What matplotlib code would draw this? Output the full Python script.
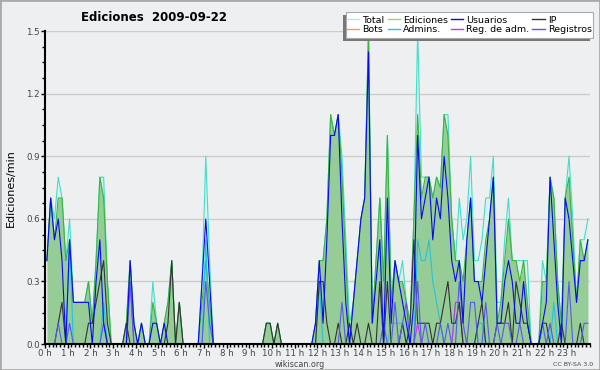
#!/usr/bin/env python3
"""
Edits per minute for one day (2009-09-22), 10 minute bins, wikiscan style.
"""

import numpy as np
import matplotlib
matplotlib.use("Agg")
import matplotlib.pyplot as plt
from matplotlib.lines import Line2D
from matplotlib.patches import Rectangle
from matplotlib.ticker import MultipleLocator

# one row per hour, 6 bins of 10 minutes each
total = [
    0.4, 0.7, 0.6, 0.8, 0.7, 0.4,
    0.6, 0.2, 0.2, 0.2, 0.2, 0.3,
    0.1, 0.4, 0.8, 0.8, 0.3, 0.0,
    0.0, 0.0, 0.0, 0.1, 0.4, 0.1,
    0.0, 0.1, 0.0, 0.0, 0.3, 0.1,
    0.0, 0.1, 0.2, 0.4, 0.0, 0.2,
    0.0, 0.0, 0.0, 0.0, 0.0, 0.3,
    0.9, 0.4, 0.0, 0.0, 0.0, 0.0,
    0.0, 0.0, 0.0, 0.0, 0.0, 0.0,
    0.0, 0.0, 0.0, 0.0, 0.1, 0.1,
    0.0, 0.1, 0.0, 0.0, 0.0, 0.0,
    0.0, 0.0, 0.0, 0.0, 0.0, 0.1,
    0.4, 0.4, 0.6, 1.1, 1.0, 1.1,
    0.9, 0.5, 0.1, 0.2, 0.4, 0.6,
    0.7, 1.5, 0.1, 0.4, 0.7, 0.3,
    1.0, 0.2, 0.4, 0.3, 0.4, 0.2,
    0.1, 0.6, 1.5, 0.8, 0.8, 0.8,
    0.7, 0.8, 0.75, 1.1, 1.1, 0.6,
    0.4, 0.7, 0.5, 0.6, 0.9, 0.4,
    0.4, 0.5, 0.7, 0.7, 0.9, 0.2,
    0.2, 0.5, 0.7, 0.4, 0.4, 0.4,
    0.4, 0.4, 0.0, 0.0, 0.0, 0.4,
    0.3, 0.8, 0.7, 0.3, 0.0, 0.7,
    0.9, 0.6, 0.2, 0.5, 0.5, 0.6,
]

ediciones = [
    0.4, 0.7, 0.5, 0.7, 0.7, 0.4,
    0.5, 0.2, 0.2, 0.2, 0.2, 0.3,
    0.1, 0.4, 0.8, 0.7, 0.3, 0.0,
    0.0, 0.0, 0.0, 0.1, 0.4, 0.1,
    0.0, 0.1, 0.0, 0.0, 0.2, 0.1,
    0.0, 0.1, 0.2, 0.4, 0.0, 0.2,
    0.0, 0.0, 0.0, 0.0, 0.0, 0.2,
    0.4, 0.2, 0.0, 0.0, 0.0, 0.0,
    0.0, 0.0, 0.0, 0.0, 0.0, 0.0,
    0.0, 0.0, 0.0, 0.0, 0.1, 0.1,
    0.0, 0.1, 0.0, 0.0, 0.0, 0.0,
    0.0, 0.0, 0.0, 0.0, 0.0, 0.1,
    0.4, 0.4, 0.6, 1.1, 1.0, 1.1,
    0.8, 0.4, 0.0, 0.2, 0.4, 0.6,
    0.7, 1.5, 0.1, 0.4, 0.7, 0.3,
    1.0, 0.2, 0.4, 0.3, 0.3, 0.2,
    0.1, 0.6, 1.1, 0.7, 0.8, 0.8,
    0.7, 0.8, 0.75, 1.1, 1.0, 0.6,
    0.4, 0.4, 0.3, 0.5, 0.7, 0.3,
    0.3, 0.3, 0.5, 0.6, 0.8, 0.1,
    0.2, 0.4, 0.6, 0.4, 0.4, 0.3,
    0.4, 0.2, 0.0, 0.0, 0.0, 0.3,
    0.3, 0.8, 0.7, 0.3, 0.1, 0.7,
    0.8, 0.5, 0.2, 0.5, 0.4, 0.5,
]

usuarios = [
    0.4, 0.7, 0.5, 0.6, 0.4, 0.0,
    0.5, 0.2, 0.2, 0.2, 0.2, 0.2,
    0.0, 0.3, 0.5, 0.1, 0.0, 0.0,
    0.0, 0.0, 0.0, 0.0, 0.4, 0.1,
    0.0, 0.1, 0.0, 0.0, 0.1, 0.1,
    0.0, 0.1, 0.0, 0.0, 0.0, 0.0,
    0.0, 0.0, 0.0, 0.0, 0.0, 0.3,
    0.6, 0.3, 0.0, 0.0, 0.0, 0.0,
    0.0, 0.0, 0.0, 0.0, 0.0, 0.0,
    0.0, 0.0, 0.0, 0.0, 0.0, 0.0,
    0.0, 0.0, 0.0, 0.0, 0.0, 0.0,
    0.0, 0.0, 0.0, 0.0, 0.0, 0.1,
    0.4, 0.1, 0.5, 1.0, 1.0, 1.1,
    0.6, 0.2, 0.0, 0.2, 0.4, 0.6,
    0.7, 1.4, 0.1, 0.3, 0.5, 0.0,
    0.7, 0.1, 0.4, 0.3, 0.2, 0.1,
    0.0, 0.2, 1.0, 0.6, 0.7, 0.8,
    0.5, 0.7, 0.6, 0.9, 0.7, 0.4,
    0.3, 0.4, 0.1, 0.5, 0.7, 0.3,
    0.3, 0.2, 0.4, 0.6, 0.8, 0.1,
    0.1, 0.3, 0.4, 0.3, 0.1, 0.1,
    0.3, 0.1, 0.0, 0.0, 0.0, 0.1,
    0.2, 0.8, 0.5, 0.2, 0.0, 0.7,
    0.6, 0.4, 0.2, 0.4, 0.4, 0.5,
]

ip = [
    0.0, 0.0, 0.0, 0.1, 0.2, 0.0,
    0.0, 0.0, 0.0, 0.0, 0.0, 0.1,
    0.1, 0.2, 0.3, 0.4, 0.1, 0.0,
    0.0, 0.0, 0.0, 0.1, 0.0, 0.0,
    0.0, 0.0, 0.0, 0.0, 0.0, 0.0,
    0.0, 0.0, 0.1, 0.4, 0.0, 0.2,
    0.0, 0.0, 0.0, 0.0, 0.0, 0.0,
    0.0, 0.0, 0.0, 0.0, 0.0, 0.0,
    0.0, 0.0, 0.0, 0.0, 0.0, 0.0,
    0.0, 0.0, 0.0, 0.0, 0.1, 0.1,
    0.0, 0.1, 0.0, 0.0, 0.0, 0.0,
    0.0, 0.0, 0.0, 0.0, 0.0, 0.0,
    0.3, 0.3, 0.1, 0.0, 0.0, 0.1,
    0.0, 0.0, 0.1, 0.0, 0.1, 0.0,
    0.0, 0.1, 0.0, 0.0, 0.3, 0.0,
    0.3, 0.0, 0.0, 0.0, 0.1, 0.0,
    0.1, 0.5, 0.1, 0.1, 0.1, 0.1,
    0.0, 0.1, 0.1, 0.2, 0.3, 0.1,
    0.1, 0.2, 0.0, 0.0, 0.0, 0.0,
    0.1, 0.2, 0.0, 0.0, 0.0, 0.1,
    0.1, 0.1, 0.2, 0.0, 0.3, 0.2,
    0.1, 0.1, 0.0, 0.0, 0.0, 0.1,
    0.1, 0.0, 0.0, 0.0, 0.1, 0.0,
    0.0, 0.0, 0.0, 0.1, 0.0, 0.0,
]

registros = [
    0.0, 0.0, 0.0, 0.1, 0.0, 0.0,
    0.1, 0.0, 0.0, 0.0, 0.0, 0.0,
    0.0, 0.0, 0.0, 0.1, 0.0, 0.0,
    0.0, 0.0, 0.0, 0.0, 0.3, 0.0,
    0.0, 0.0, 0.0, 0.0, 0.0, 0.0,
    0.0, 0.0, 0.0, 0.0, 0.0, 0.0,
    0.0, 0.0, 0.0, 0.0, 0.0, 0.0,
    0.3, 0.1, 0.0, 0.0, 0.0, 0.0,
    0.0, 0.0, 0.0, 0.0, 0.0, 0.0,
    0.0, 0.0, 0.0, 0.0, 0.0, 0.0,
    0.0, 0.0, 0.0, 0.0, 0.0, 0.0,
    0.0, 0.0, 0.0, 0.0, 0.0, 0.0,
    0.0, 0.0, 0.0, 0.0, 0.0, 0.0,
    0.2, 0.0, 0.0, 0.0, 0.0, 0.0,
    0.0, 0.0, 0.0, 0.0, 0.0, 0.1,
    0.0, 0.0, 0.2, 0.0, 0.1, 0.2,
    0.0, 0.0, 0.3, 0.0, 0.1, 0.0,
    0.0, 0.0, 0.1, 0.0, 0.1, 0.0,
    0.0, 0.3, 0.1, 0.0, 0.2, 0.2,
    0.0, 0.0, 0.2, 0.0, 0.0, 0.1,
    0.0, 0.1, 0.1, 0.0, 0.0, 0.1,
    0.0, 0.0, 0.0, 0.0, 0.0, 0.1,
    0.0, 0.1, 0.0, 0.0, 0.0, 0.0,
    0.3, 0.0, 0.0, 0.0, 0.1, 0.1,
]

admins = [
    0.0, 0.0, 0.0, 0.0, 0.0, 0.0,
    0.5, 0.0, 0.0, 0.0, 0.0, 0.0,
    0.0, 0.0, 0.0, 0.2, 0.0, 0.0,
    0.0, 0.0, 0.0, 0.0, 0.0, 0.0,
    0.0, 0.0, 0.0, 0.0, 0.0, 0.0,
    0.0, 0.0, 0.0, 0.0, 0.0, 0.0,
    0.0, 0.0, 0.0, 0.0, 0.0, 0.0,
    0.5, 0.0, 0.0, 0.0, 0.0, 0.0,
    0.0, 0.0, 0.0, 0.0, 0.0, 0.0,
    0.0, 0.0, 0.0, 0.0, 0.0, 0.0,
    0.0, 0.0, 0.0, 0.0, 0.0, 0.0,
    0.0, 0.0, 0.0, 0.0, 0.0, 0.0,
    0.3, 0.0, 0.0, 0.0, 0.0, 0.0,
    0.0, 0.0, 0.0, 0.0, 0.0, 0.0,
    0.0, 0.0, 0.0, 0.0, 0.0, 0.0,
    0.0, 0.1, 0.1, 0.1, 0.1, 0.0,
    0.0, 0.0, 0.5, 0.4, 0.4, 0.5,
    0.3, 0.2, 0.1, 0.0, 0.0, 0.0,
    0.2, 0.2, 0.0, 0.0, 0.0, 0.0,
    0.1, 0.1, 0.0, 0.0, 0.0, 0.0,
    0.0, 0.0, 0.0, 0.0, 0.0, 0.0,
    0.0, 0.0, 0.0, 0.0, 0.0, 0.0,
    0.0, 0.0, 0.2, 0.0, 0.0, 0.0,
    0.0, 0.0, 0.0, 0.0, 0.0, 0.0,
]

reg_adm = [
    0.0, 0.0, 0.0, 0.0, 0.0, 0.0,
    0.0, 0.0, 0.0, 0.0, 0.0, 0.0,
    0.0, 0.0, 0.0, 0.0, 0.0, 0.0,
    0.0, 0.0, 0.0, 0.0, 0.3, 0.0,
    0.0, 0.0, 0.0, 0.0, 0.0, 0.0,
    0.0, 0.0, 0.0, 0.0, 0.0, 0.0,
    0.0, 0.0, 0.0, 0.0, 0.0, 0.0,
    0.0, 0.0, 0.0, 0.0, 0.0, 0.0,
    0.0, 0.0, 0.0, 0.0, 0.0, 0.0,
    0.0, 0.0, 0.0, 0.0, 0.0, 0.0,
    0.0, 0.0, 0.0, 0.0, 0.0, 0.0,
    0.0, 0.0, 0.0, 0.0, 0.0, 0.0,
    0.0, 0.0, 0.0, 0.0, 0.0, 0.0,
    0.0, 0.0, 0.0, 0.0, 0.0, 0.0,
    0.0, 0.0, 0.0, 0.0, 0.0, 0.0,
    0.0, 0.0, 0.0, 0.0, 0.0, 0.0,
    0.0, 0.0, 0.1, 0.0, 0.0, 0.0,
    0.0, 0.0, 0.0, 0.0, 0.0, 0.0,
    0.2, 0.2, 0.0, 0.0, 0.0, 0.0,
    0.0, 0.0, 0.0, 0.0, 0.0, 0.0,
    0.0, 0.0, 0.0, 0.0, 0.0, 0.0,
    0.0, 0.0, 0.0, 0.0, 0.0, 0.0,
    0.0, 0.0, 0.0, 0.0, 0.0, 0.0,
    0.0, 0.0, 0.0, 0.0, 0.0, 0.0,
]

bots = [0.0] * 144  # no bot edits that day

hour_labels = ["%d h" % h for h in range(24)]

BG = "#eeeff0"
COLORS = {
    "total": "#44ddcc",
    "ediciones": "#3cb43c",
    "usuarios": "#0a0af0",
    "ip": "#333333",
    "bots": "#f5a040",
    "admins": "#22c4e0",
    "reg_adm": "#cc33e6",
    "registros": "#5858f0",
}

# legend box, in figure pixels from the top-left corner
LEG_LEFT, LEG_TOP, LEG_RIGHT, LEG_BOTTOM = 346, 12, 593, 38
SHADOW = 3


def draw(path="out.png"):
    x = (np.arange(len(total)) + 0.5) / 6.0  # bin centres, in hours
    W, H = 600.0, 370.0

    fig = plt.figure(figsize=(6, 3.7), dpi=100, facecolor=BG)
    ax = fig.add_axes([0.075, 0.07, 0.908, 0.846], facecolor=BG)

    # filled areas first: total (pale) then edits (green)
    ax.fill_between(x, total, color="#dcf1ee", lw=0, zorder=1)
    ax.fill_between(x, ediciones, color="#96cc96", lw=0, zorder=1.1)

    lw = 0.8
    ax.plot(x, bots, color=COLORS["bots"], lw=lw, zorder=1.5)
    ax.plot(x, total, color=COLORS["total"], lw=lw, zorder=2)
    ax.plot(x, ediciones, color=COLORS["ediciones"], lw=lw, zorder=2.05)
    ax.plot(x, admins, color=COLORS["admins"], lw=lw, zorder=2.1)
    ax.plot(x, reg_adm, color=COLORS["reg_adm"], lw=lw, zorder=2.12)
    ax.plot(x, ip, color=COLORS["ip"], lw=lw, zorder=2.15)
    ax.plot(x, registros, color=COLORS["registros"], lw=lw, zorder=2.18)
    ax.plot(x, usuarios, color=COLORS["usuarios"], lw=lw, zorder=2.2)

    ax.set_xlim(0, 24)
    ax.set_ylim(0, 1.5)

    ax.set_xticks(range(24))
    ax.set_xticklabels(hour_labels)
    ax.xaxis.set_minor_locator(MultipleLocator(1 / 6.0))
    ax.set_yticks(np.arange(0, 1.51, 0.3))
    ax.set_yticklabels(["%.1f" % v for v in np.arange(0, 1.51, 0.3)])
    ax.yaxis.set_minor_locator(MultipleLocator(0.075))

    ax.tick_params(axis="both", which="major", direction="out", length=3,
                   width=1, labelsize=6.2, labelcolor="#444444", pad=0.5)
    ax.tick_params(axis="both", which="minor", direction="out", length=2.5,
                   width=1)
    ax.grid(axis="y", which="major", color="#cccccc", lw=1)
    ax.set_axisbelow(True)

    for side in ("top", "right"):
        ax.spines[side].set_visible(False)
    for side in ("left", "bottom"):
        ax.spines[side].set_linewidth(1.5)
        ax.spines[side].set_zorder(3)

    ax.set_ylabel("Ediciones/min", fontsize=8, labelpad=8)

    fig.text(0.257, 0.953, "Ediciones  2009-09-22", ha="center", va="center",
             fontsize=8.5, fontweight="bold")
    fig.text(0.5, 0.016, "wikiscan.org", ha="center", va="center",
             fontsize=5.8, color="#444444")
    fig.text(0.955, 0.016, "CC BY-SA 3.0", ha="center", va="center",
             fontsize=4.5, color="#444444")

    # legend box and its shadow (down-left), drawn as plain figure patches
    bx, by = LEG_LEFT / W, 1 - LEG_BOTTOM / H
    bw, bh = (LEG_RIGHT - LEG_LEFT) / W, (LEG_BOTTOM - LEG_TOP) / H
    fig.add_artist(Rectangle((bx - SHADOW / W, by - SHADOW / H), bw, bh,
                             transform=fig.transFigure, facecolor="#777777",
                             edgecolor="none", zorder=4))
    fig.add_artist(Rectangle((bx, by), bw, bh, transform=fig.transFigure,
                             facecolor="white", edgecolor="#aaaaaa", lw=0.8,
                             zorder=4.5))

    # legend entries, filled column by column
    names = [("Total", "total"), ("Bots", "bots"),
             ("Ediciones", "ediciones"), ("Admins.", "admins"),
             ("Usuarios", "usuarios"), ("Reg. de adm.", "reg_adm"),
             ("IP", "ip"), ("Registros", "registros")]
    light = {"total": "#b4ece4", "ediciones": "#8cd68c"}
    handles = [Line2D([], [], color=light.get(k, COLORS[k]), lw=1.0)
               for _, k in names]
    leg = fig.legend(handles, [n for n, _ in names], ncol=4,
                     loc="center", bbox_to_anchor=(bx + bw / 2, by + bh / 2),
                     fontsize=6.8, handlelength=1.3, handletextpad=0.35,
                     columnspacing=0.3, labelspacing=0.1, borderpad=0.0,
                     borderaxespad=0, frameon=False)
    leg.set_zorder(5)

    fig.add_artist(Rectangle((0, 0), 1, 1, transform=fig.transFigure,
                             fill=False, edgecolor="#aaaaaa", lw=2))

    fig.savefig(path, dpi=100, facecolor=BG)


if __name__ == "__main__":
    draw()
